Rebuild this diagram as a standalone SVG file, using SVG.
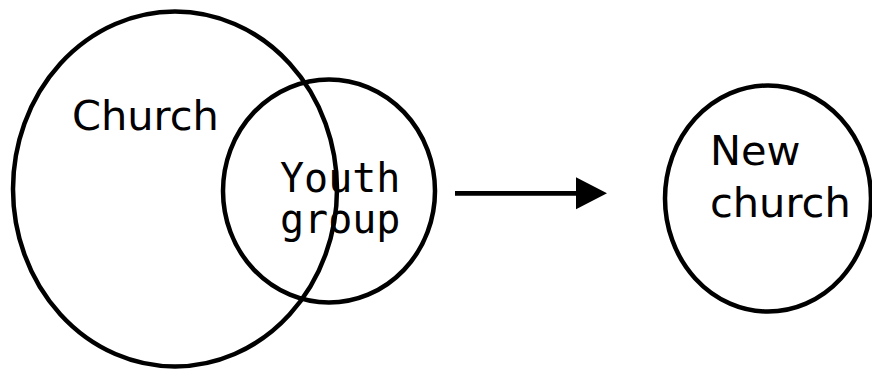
<svg xmlns="http://www.w3.org/2000/svg" width="872" height="372" viewBox="0 0 872 372">
<style>
.ring{fill:none;stroke:#000;stroke-width:4.5}
.sans{font-family:"DejaVu Sans",Verdana,sans-serif;font-size:41.5px;fill:#000}
.mono{font-family:"DejaVu Sans Mono",monospace;font-size:40px;fill:#000}
</style>
<defs>
<marker id="ah" markerUnits="userSpaceOnUse" markerWidth="32" markerHeight="34" refX="0" refY="16" orient="auto">
<path d="M0,0 L31,16 L0,32 Z" fill="#000"/>
</marker>
</defs>
<rect width="872" height="372" fill="#fff"/>
<g id="church">
<ellipse class="ring" cx="175" cy="189" rx="162" ry="177.5"/>
<text class="sans" x="72" y="129.5">Church</text>
</g>
<g id="youth">
<ellipse class="ring" cx="329" cy="191" rx="106" ry="111.5"/>
<text class="mono" x="280" y="192">Youth</text>
<text class="mono" x="280" y="233">group</text>
</g>
<g id="newchurch">
<ellipse class="ring" cx="768" cy="198.5" rx="103" ry="113"/>
<text class="sans" x="710" y="165">New</text>
<text class="sans" x="710" y="216.5">church</text>
</g>
<g id="connectors">
<line x1="455" y1="193.3" x2="576" y2="193.3" stroke="#000" stroke-width="4.7" marker-end="url(#ah)"/>
</g>
</svg>
